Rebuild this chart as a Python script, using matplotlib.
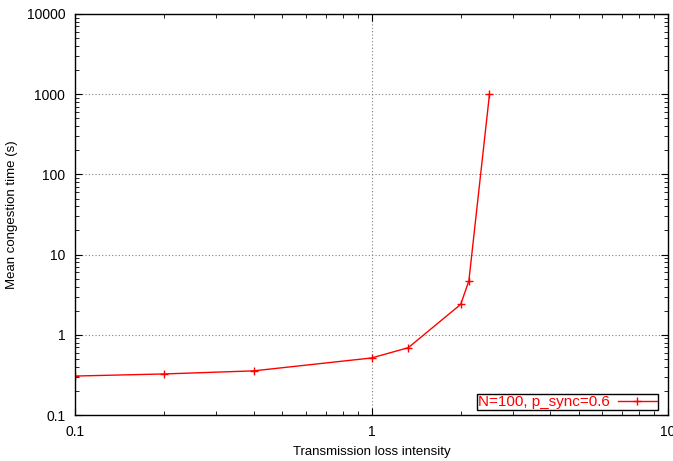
import matplotlib
matplotlib.use("Agg")
import matplotlib.pyplot as plt
from matplotlib.ticker import LogLocator, NullFormatter, FixedLocator

plt.rcParams['font.family'] = ['Liberation Sans', 'DejaVu Sans']

# data
loss_intensity = [0.1, 0.2, 0.4, 1.0, 1.33, 2.0, 2.13, 2.5]
congestion_time = [0.306, 0.325, 0.355, 0.514, 0.69, 2.4, 4.7, 1000]
series_label = "N=100, p_sync=0.6"

W, H = 673, 461
fig = plt.figure(figsize=(W / 100, H / 100), dpi=100)
ax = fig.add_axes([75 / W, 1 - 415 / H, (668 - 75) / W, (415 - 14) / H])

ax.plot(loss_intensity, congestion_time, color='#ff0000', lw=1.0,
        marker='+', ms=5.5, mew=1.0, label=series_label)

ax.set_xscale('log')
ax.set_yscale('log')
ax.set_xlim(0.1, 10)
ax.set_ylim(0.1, 10000)

ax.xaxis.set_major_locator(FixedLocator([0.1, 1, 10]))
ax.yaxis.set_major_locator(FixedLocator([0.1, 1, 10, 100, 1000, 10000]))
ax.set_xticklabels(['0.1', '1', '10'])
ax.set_yticklabels(['0.1', '1', '10', '100', '1000', '10000'])
ax.xaxis.set_minor_locator(LogLocator(base=10, subs=range(2, 10), numticks=20))
ax.yaxis.set_minor_locator(LogLocator(base=10, subs=range(2, 10), numticks=20))
ax.xaxis.set_minor_formatter(NullFormatter())
ax.yaxis.set_minor_formatter(NullFormatter())

ax.tick_params(which='both', direction='in', top=True, right=True,
               labelsize=10, colors='black')
ax.tick_params(which='major', length=5, width=0.8, pad=7)
ax.tick_params(which='minor', length=3, width=0.6)

ax.grid(True, which='major', linestyle=(0, (1, 2)), color='#808080', lw=0.8)
for s in ax.spines.values():
    s.set_linewidth(1.0)

ax.set_xlabel("Transmission loss intensity", fontsize=9.5, labelpad=5)
ax.set_ylabel("Mean congestion time (s)", fontsize=9.5, labelpad=6)

leg = ax.legend(loc='lower right', bbox_to_anchor=(1 - 10 / 593, 5 / 401),
                markerfirst=False, fancybox=False, framealpha=1,
                edgecolor='black', fontsize=11, borderpad=0.05,
                handlelength=2.6, handletextpad=0.5, borderaxespad=0)
leg.get_frame().set_linewidth(1.0)
for t in leg.get_texts():
    t.set_color('#ff0000')

fig.savefig("out.png", dpi=100)
